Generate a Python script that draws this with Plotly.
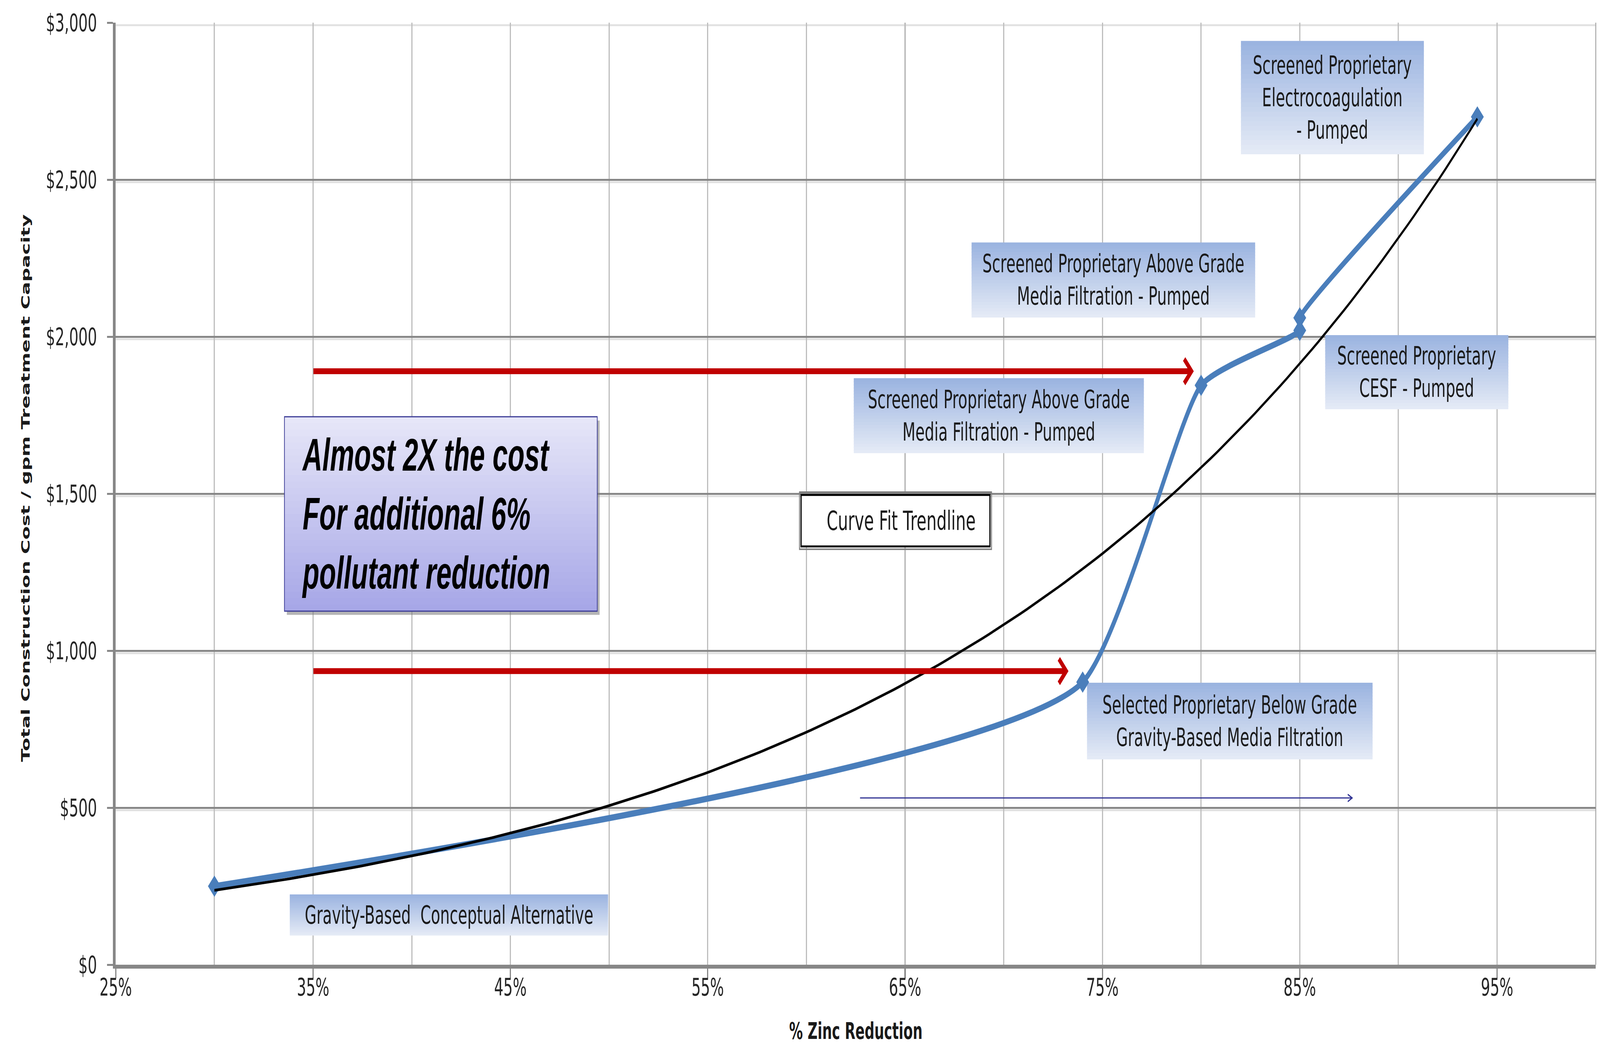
import numpy as np
import plotly.graph_objects as go

# ---------------- data ----------------
reduction = [0.30, 0.74, 0.80, 0.85, 0.85, 0.94]
cost = [250, 900, 1845, 2020, 2060, 2700]
point_names = [
    "Gravity-Based  Conceptual Alternative",
    "Selected Proprietary Below Grade<br>Gravity-Based Media Filtration",
    "Screened Proprietary Above Grade<br>Media Filtration - Pumped",
    "Screened Proprietary<br>CESF - Pumped",
    "Screened Proprietary Above Grade<br>Media Filtration - Pumped",
    "Screened Proprietary<br>Electrocoagulation<br>- Pumped",
]
x_ticks = [0.25, 0.35, 0.45, 0.55, 0.65, 0.75, 0.85, 0.95]
x_tick_text = ["25%", "35%", "45%", "55%", "65%", "75%", "85%", "95%"]
y_ticks = [0, 500, 1000, 1500, 2000, 2500, 3000]
y_tick_text = ["$0", "$500", "$1,000", "$1,500", "$2,000", "$2,500", "$3,000"]

# exponential curve-fit trendline derived from the data points (as Excel does)
coef = np.polyfit(reduction, np.log(cost), 1)
trend_x = np.linspace(min(reduction), max(reduction), 200)
trend_y = np.exp(np.polyval(coef, trend_x))

W, H = 6788, 2673
ML, MR, MT, MB = 491, 18, 58, 203

fig = go.Figure()

fig.add_trace(go.Scatter(
    x=reduction, y=cost, mode="lines+markers",
    line=dict(color="#4A7EBB", width=16, shape="spline", smoothing=0.5),
    marker=dict(symbol="diamond", size=42, color="#4A7EBB"),
    hoverinfo="skip", showlegend=False))

fig.add_trace(go.Scatter(
    x=trend_x, y=trend_y, mode="lines",
    line=dict(color="#000000", width=7),
    hoverinfo="skip", showlegend=False))

LABEL_FONT = dict(family="DejaVu Sans", size=64, color="#1a1a1a")

def hexrgb(h):
    h = h.lstrip("#")
    return tuple(int(h[i:i + 2], 16) for i in (0, 2, 4))

def grad_box(x0, x1, y0, y1, top, bottom, n=24):
    ct, cb = hexrgb(top), hexrgb(bottom)
    step = (y1 - y0) / n
    for i in range(n):
        t = i / (n - 1)
        c = tuple(round(ct[k] + (cb[k] - ct[k]) * t) for k in range(3))
        ya = y1 - step * i
        yb = y1 - step * (i + 1) - (step * 0.3 if i < n - 1 else 0)
        fig.add_shape(type="rect", xref="x", yref="y", x0=x0, x1=x1, y0=yb, y1=ya,
                      fillcolor="rgb(%d,%d,%d)" % c, line=dict(width=0), layer="between")

# light band just under each horizontal gridline (3-D look of the original)
for v in y_ticks[1:]:
    fig.add_shape(type="line", xref="paper", yref="y", x0=0, x1=1, y0=v - 8, y1=v - 8,
                  line=dict(color="#E2E2E2", width=5), layer="below")

# label boxes (x0, x1, y0, y1) in data units, with the index of the point they describe
label_boxes = [
    (0.3382, 0.4995, 93, 224, 0),
    (0.7422, 0.8869, 654, 898, 1),
    (0.6240, 0.7710, 1629, 1868, 2),
    (0.8629, 0.9557, 1769, 2005, 3),
    (0.6837, 0.8274, 2061, 2300, 4),
    (0.8202, 0.9129, 2581, 2942, 5),
]
for (x0, x1, y0, y1, idx) in label_boxes:
    grad_box(x0, x1, y0, y1, "#9BB4E0", "#E4EAF6")
    fig.add_annotation(x=(x0 + x1) / 2, y=(y0 + y1) / 2, xref="x", yref="y",
                       text=point_names[idx], showarrow=False, align="center",
                       font=LABEL_FONT, xanchor="center", yanchor="middle")

# big callout box
bx0, bx1, by0, by1 = 0.3355, 0.4940, 1126, 1745
fig.add_shape(type="rect", xref="x", yref="y", x0=bx0 + 0.0012, x1=bx1 + 0.0012,
              y0=by0 - 12, y1=by1 - 12, fillcolor="rgba(120,120,120,0.55)",
              line=dict(width=0), layer="between")
grad_box(bx0, bx1, by0, by1, "#E6E6F8", "#A7A7E7", n=30)
fig.add_shape(type="rect", xref="x", yref="y", x0=bx0, x1=bx1, y0=by0, y1=by1,
              line=dict(color="#3C3C96", width=3), layer="between")
fig.add_annotation(x=0.3441, y=1435, xref="x", yref="y",
                   text="<b><i>Almost 2X the cost<br>For additional 6%<br>pollutant reduction</i></b>",
                   showarrow=False, align="left", xanchor="left", yanchor="middle",
                   font=dict(family="Liberation Sans", size=116, color="#000000"))

# curve fit trendline box
cx0, cx1, cy0, cy1 = 0.5973, 0.6930, 1332, 1496
fig.add_shape(type="rect", xref="x", yref="y", x0=cx0 - 0.0008, x1=cx1 + 0.0008,
              y0=cy0 - 9, y1=cy1 + 9, fillcolor="rgba(0,0,0,0)",
              line=dict(color="#7F7F7F", width=4), layer="between")
fig.add_shape(type="rect", xref="x", yref="y", x0=cx0, x1=cx1, y0=cy0, y1=cy1,
              fillcolor="#FFFFFF", line=dict(color="#000000", width=5), layer="between")
fig.add_annotation(x=0.648, y=1414, xref="x", yref="y", text="Curve Fit Trendline",
                   showarrow=False, xanchor="center", yanchor="middle",
                   font=dict(family="DejaVu Sans", size=68, color="#1a1a1a"))

# red arrows
for (xt, xh, yy) in [(0.35, 0.7963, 1890), (0.35, 0.7328, 935)]:
    fig.add_annotation(x=xh, y=yy, ax=xt, ay=yy, xref="x", yref="y", axref="x", ayref="y",
                       text="", showarrow=True, arrowhead=4, arrowsize=0.8,
                       arrowwidth=15, arrowcolor="#C00000")
# thin navy arrow
fig.add_annotation(x=0.877, y=531, ax=0.627, ay=531, xref="x", yref="y", axref="x", ayref="y",
                   text="", showarrow=True, arrowhead=5, arrowsize=1.2,
                   arrowwidth=3, arrowcolor="#2E3192")

# right border
fig.add_shape(type="line", xref="paper", yref="paper", x0=1, x1=1, y0=0, y1=1,
              line=dict(color="#A6A6A6", width=4), layer="between")

# axis titles
fig.add_annotation(x=(109 - ML) / (W - ML - MR), y=0.5058, xref="paper", yref="paper",
                   text="<b>Total Construction Cost / gpm Treatment Capacity</b>",
                   textangle=-90, showarrow=False, xanchor="center", yanchor="middle",
                   font=dict(family="DejaVu Sans", size=50, color="#1a1a1a"))
fig.add_annotation(x=0.5, y=-0.0705, xref="paper", yref="paper",
                   text="<b>% Zinc Reduction</b>", showarrow=False,
                   xanchor="center", yanchor="middle",
                   font=dict(family="DejaVu Sans", size=58, color="#1a1a1a"))

fig.update_layout(
    width=W, height=H,
    margin=dict(l=ML, r=MR, t=MT, b=MB, pad=0),
    plot_bgcolor="#FFFFFF", paper_bgcolor="#FFFFFF",
    showlegend=False,
    font=dict(family="DejaVu Sans", size=62, color="#262626"),
    xaxis=dict(range=[0.25, 1.0], tickmode="array", tickvals=x_ticks, ticktext=x_tick_text,
               showgrid=True, gridcolor="#BEBEBE", gridwidth=5,
               minor=dict(dtick=0.05, tick0=0.25, showgrid=True, gridcolor="#BEBEBE", gridwidth=5),
               showline=True, linecolor="#878787", linewidth=10,
               ticks="outside", ticklen=25, tickwidth=5, tickcolor="#878787",
               ticklabelstandoff=-30, zeroline=False,
               tickfont=dict(family="DejaVu Sans", size=62, color="#262626")),
    yaxis=dict(range=[0, 3000], tickmode="array", tickvals=y_ticks, ticktext=y_tick_text,
               showgrid=True, gridcolor="#878787", gridwidth=5,
               showline=True, linecolor="#878787", linewidth=12,
               ticks="outside", ticklen=25, tickwidth=5, tickcolor="#878787",
               ticklabelstandoff=30, zeroline=False,
               tickfont=dict(family="DejaVu Sans", size=62, color="#262626")),
)

# fit the fixed-size figure into the browser window if the window differs from the design size
fit_js = """
document.body.style.margin = '0';
document.body.style.overflow = 'hidden';
var gd = document.getElementById('{plot_id}');
var sx = window.innerWidth / %d, sy = window.innerHeight / %d;
if (Math.abs(sx - 1) > 0.002 || Math.abs(sy - 1) > 0.002) {
  gd.style.transformOrigin = '0 0';
  gd.style.transform = 'scale(' + sx + ',' + sy + ')';
}
""" % (W, H)

fig.write_html("out.html", post_script=fit_js, config={"displayModeBar": False})
